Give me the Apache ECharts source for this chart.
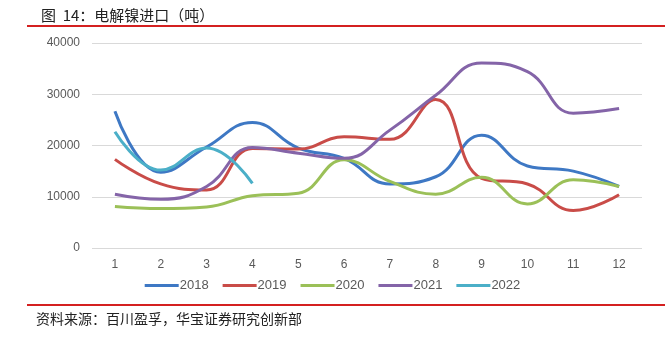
<!DOCTYPE html>
<html><head><meta charset="utf-8">
<script src="https://cdn.jsdelivr.net/npm/echarts@6/dist/echarts.min.js"></script>
<style>html,body{margin:0;padding:0;background:#fff}#c{width:665px;height:337px}</style>
</head><body><div id="c"></div>
<script>
const months = ['1','2','3','4','5','6','7','8','9','10','11','12'];
const s2018 = [26700,14800,19700,24500,19500,17500,12500,13900,22000,16000,15000,12000];
const s2019 = [17300,12500,11300,19400,19300,21700,21200,29000,13600,12500,7300,10400];
const s2020 = [8100,7700,8000,10200,10700,17200,13000,10500,13800,8600,13300,12000];
const s2021 = [10500,9500,12000,19600,18500,17500,23000,29800,36100,34400,26300,27200];
const s2022 = [22700,15200,19500,12600];
const yTicks = [0,10000,20000,30000,40000];

const chart = echarts.init(document.getElementById('c'));
const mk = (name, data, color) => ({
  name, type:'line', data, smooth:0.45, symbol:'none',
  lineStyle:{width:3, color}, itemStyle:{color}
});
chart.setOption({
  animation:false,
  title:{text:'图\u00a0\u00a014：电解镍进口（吨）', left:36, top:3,
    textStyle:{fontFamily:'Noto Sans CJK SC', fontSize:15, fontWeight:'normal', color:'#222'}},
  grid:{left:92, right:23, top:43, bottom:89},
  legend:{bottom:40, left:'center', icon:'rect', itemWidth:34, itemHeight:3, itemGap:14,
    textStyle:{fontFamily:'Liberation Sans', fontSize:13, color:'#595959', padding:[0,0,0,-4]}},
  xAxis:{type:'category', data:months, boundaryGap:true,
    axisLine:{show:false}, axisTick:{show:false},
    axisLabel:{color:'#595959', fontSize:12, fontFamily:'Liberation Sans', margin:11}},
  yAxis:{type:'value', min:yTicks[0], max:yTicks[yTicks.length-1], interval:10000,
    axisLine:{show:false}, axisTick:{show:false},
    axisLabel:{color:'#595959', fontSize:12, fontFamily:'Liberation Sans', margin:12,
      formatter:v => String(v)},
    splitLine:{lineStyle:{color:'#d9d9d9', width:1}}},
  series:[
    mk('2018', s2018, '#3e78c4'),
    mk('2019', s2019, '#c94c48'),
    mk('2020', s2020, '#9bc058'),
    mk('2021', s2021, '#8464a8'),
    mk('2022', s2022, '#4bafc8')
  ],
  graphic:[
    {type:'rect', shape:{x:27, y:25, width:638, height:2}, style:{fill:'#d42020'}},
    {type:'rect', shape:{x:27, y:304, width:638, height:2}, style:{fill:'#d42020'}},
    {type:'text', left:36, top:312, style:{text:'资料来源：百川盈孚，华宝证券研究创新部',
      font:'14px "Noto Sans CJK SC"', fill:'#222'}}
  ]
});
</script></body></html>
